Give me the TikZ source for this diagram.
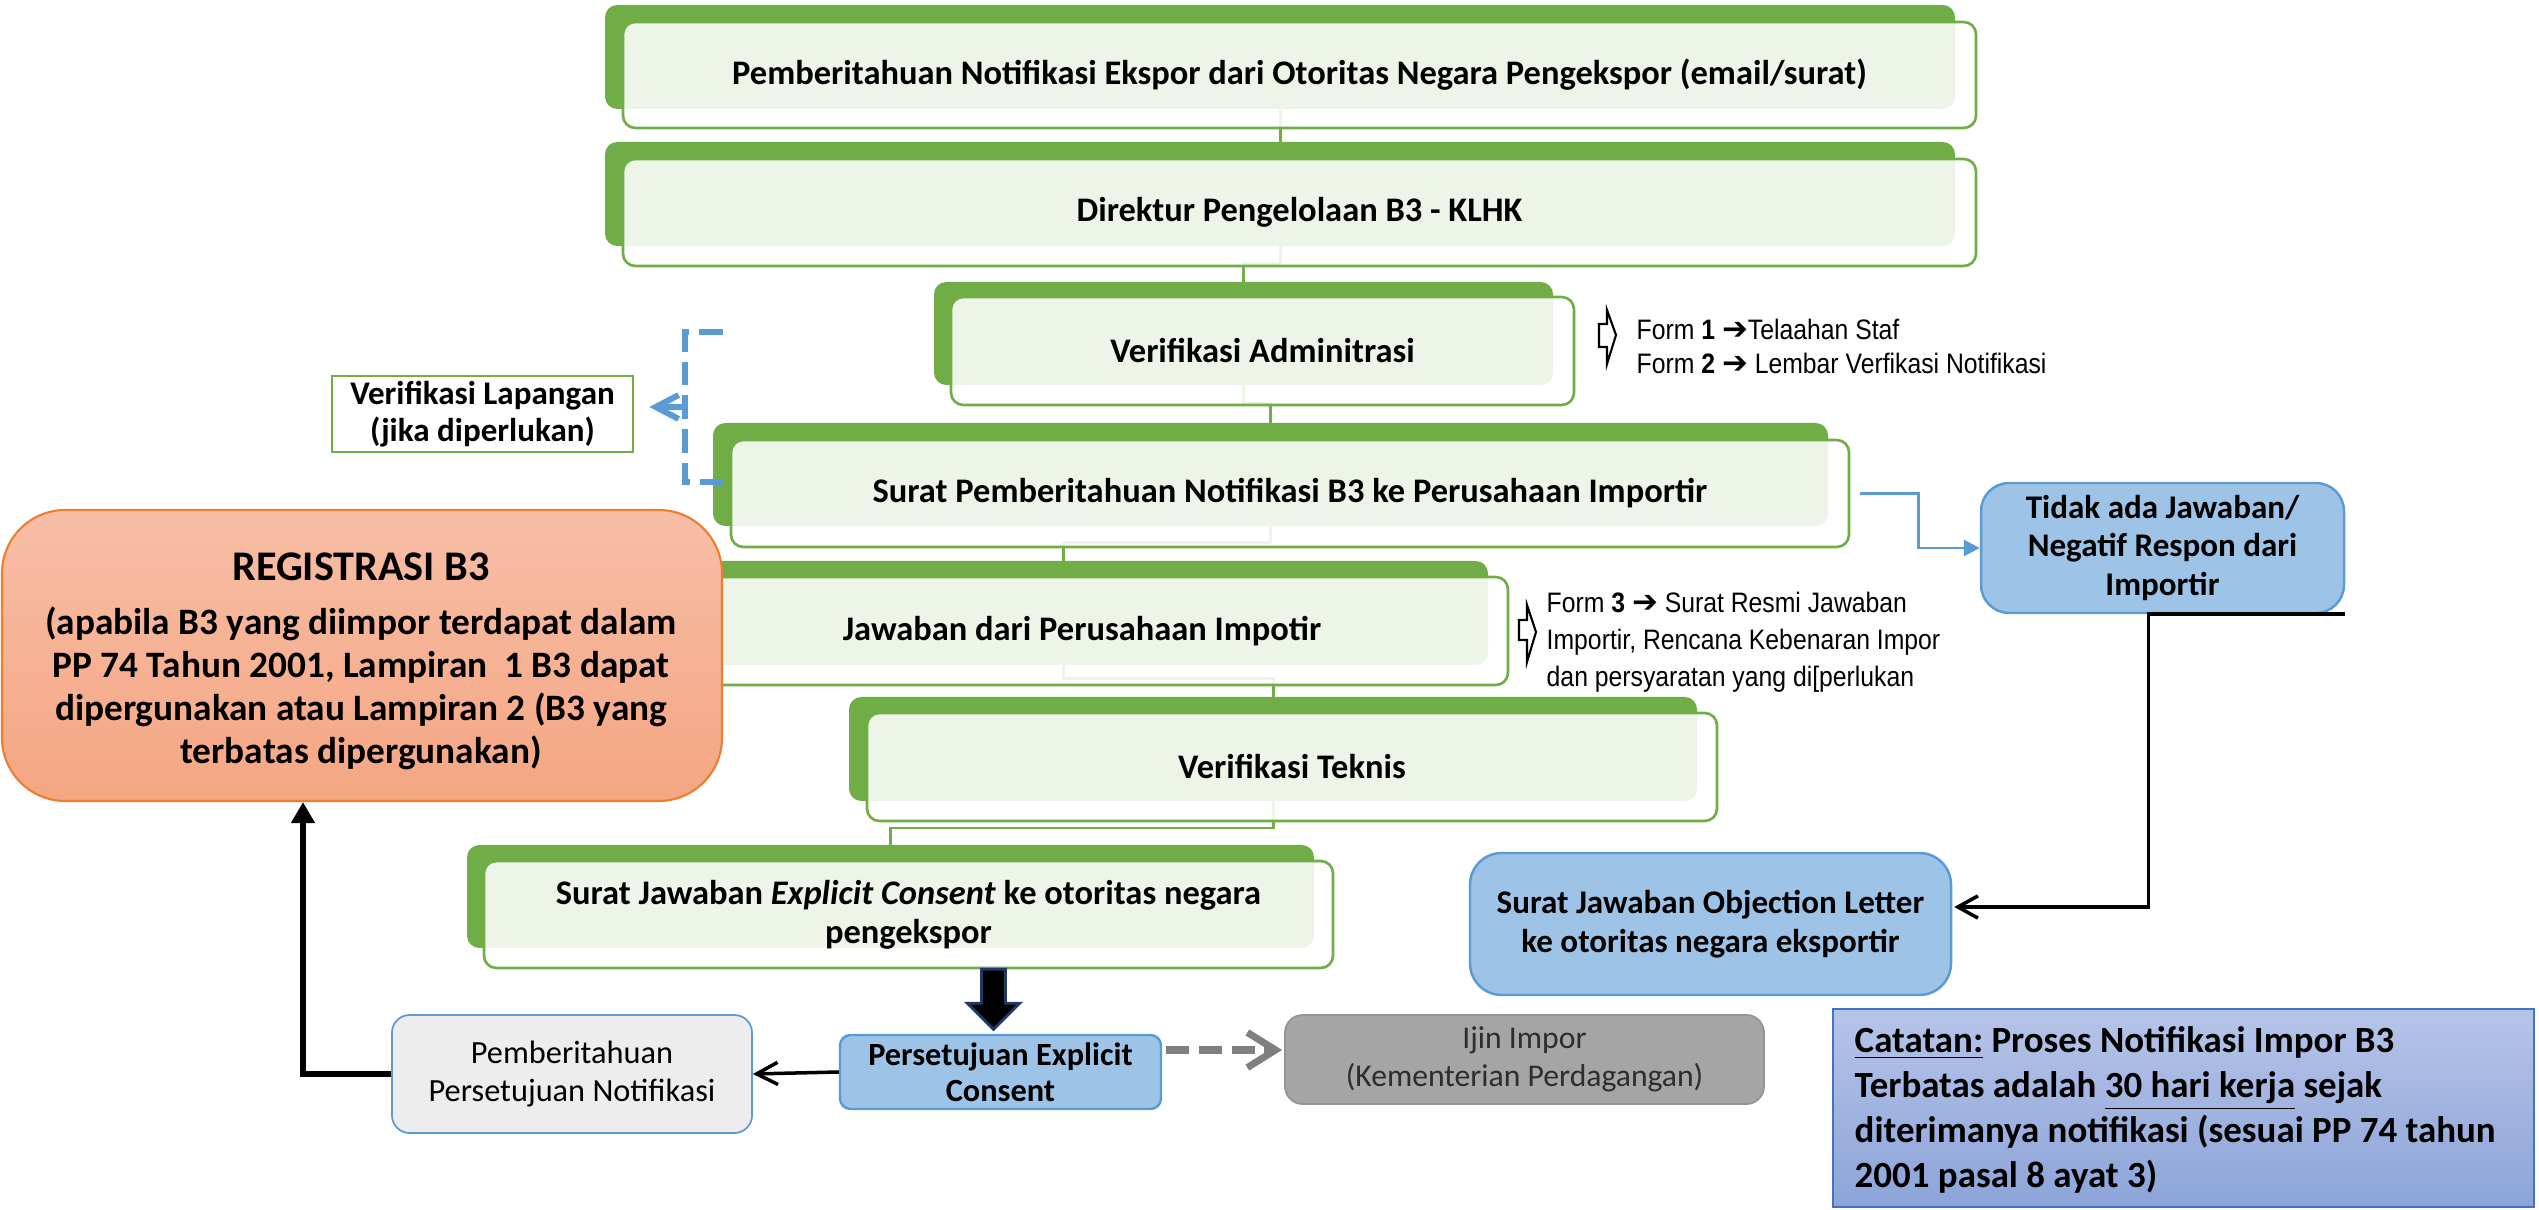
\documentclass[tikz,border=0pt]{standalone}
\usepackage{fontspec}
\setmainfont{Carlito}
\newfontfamily\narrowfont{Liberation Sans}[FakeStretch=0.88]
\newfontfamily\symfont{DejaVu Sans}
\usetikzlibrary{arrows.meta,calc,fit}
\definecolor{grn}{RGB}{112,173,71}
\definecolor{bluefill}{RGB}{157,195,230}
\definecolor{blueline}{RGB}{91,155,213}
\definecolor{regtop}{RGB}{247,190,166}
\definecolor{regbot}{RGB}{245,166,130}
\definecolor{regline}{RGB}{237,125,49}
\definecolor{cattop}{RGB}{182,196,232}
\definecolor{catbot}{RGB}{140,164,216}
\definecolor{catline}{RGB}{68,114,196}
\definecolor{ijinfill}{RGB}{165,165,165}
\definecolor{ijintext}{RGB}{45,45,45}
\definecolor{pembfill}{RGB}{237,237,237}
\definecolor{arrnavy}{RGB}{31,56,100}
\definecolor{dashgray}{RGB}{127,127,127}
\newcommand\myblockfont{\fontsize{9.8}{11}\selectfont\bfseries}
\newcommand\myformfont{\narrowfont\fontsize{8}{10}\selectfont}
\newcommand\myarrowglyph{{\symfont\fontsize{8.8}{9}\selectfont ➔}}
\begin{document}
\begin{tikzpicture}[x=0.01cm,y=-0.01cm,
  backbox/.style={fill=grn, draw=none, rounded corners=3.5pt, inner sep=0pt},
  frontbox/.style={draw=grn, line width=0.75pt, fill=white, fill opacity=0.88,
     rounded corners=3.5pt, inner sep=0pt},
  btxt/.style={align=center, font=\myblockfont, inner sep=0pt},
  conn/.style={draw=grn, line width=0.85pt},
  bluebox/.style={fill=bluefill, draw=blueline, line width=0.7pt, inner sep=0pt},
  formtxt/.style={font=\myformfont, inner sep=0pt, anchor=base west},
  hollow/.style={draw=black, line width=0.6pt, fill=white}
]
\useasboundingbox (0,0) rectangle (2539,1210);

% connectors between the green blocks (drawn first, under the boxes)
\coordinate (b1bs) at (1280,109);
\coordinate (b2bn) at (1280,142);
\coordinate (b2bs) at (1280,246);
\coordinate (b3bn) at (1243.5,282);
\coordinate (b3bs) at (1243.5,385);
\coordinate (b4bn) at (1270.5,423);
\coordinate (b4bs) at (1270.5,526);
\coordinate (b5bn) at (1063,561);
\coordinate (b5bs) at (1063,665);
\coordinate (b6bn) at (1273,697);
\coordinate (b6bs) at (1273,801);
\coordinate (b7bn) at (890.5,845);
\draw[conn] (b1bs) -- (b2bn);
\draw[conn] (b2bs) -- ++(0,18) -| (b3bn);
\draw[conn] (b3bs) -- ++(0,19) -| (b4bn);
\draw[conn] (b4bs) -- ++(0,17) -| (b5bn);
\draw[conn] (b5bs) -- ++(0,14) -| (b6bn);
\draw[conn] (b6bs) -- ++(0,27) -| (b7bn);

% back boxes
\node[backbox, fit={(605,5) (1955,109)}] (b1back) {};
\node[backbox, fit={(605,142) (1955,246)}] (b2back) {};
\node[backbox, fit={(934,282) (1553,385)}] (b3back) {};
\node[backbox, fit={(713,423) (1828,526)}] (b4back) {};
\node[backbox, fit={(638,561) (1488,665)}] (b5back) {};
\node[backbox, fit={(849,697) (1697,801)}] (b6back) {};
\node[backbox, fit={(467,845) (1314,948)}] (b7back) {};

% front boxes
\node[frontbox, fit={(623,22) (1976,128)}] (b1) {};
\node[frontbox, fit={(623,159) (1976,266)}] (b2) {};
\node[frontbox, fit={(951,297) (1574,405)}] (b3) {};
\node[frontbox, fit={(731,440) (1849,547)}] (b4) {};
\node[frontbox, fit={(656,577) (1508,685)}] (b5) {};
\node[frontbox, fit={(867,713) (1717,821)}] (b6) {};
\node[frontbox, fit={(484,861) (1333,968)}] (b7) {};
\node[btxt] (b1t) at (b1.center) {Pemberitahuan Notifikasi Ekspor dari Otoritas Negara Pengekspor (email/surat)};
\node[btxt] (b2t) at (b2.center) {Direktur Pengelolaan B3 - KLHK};
\node[btxt] (b3t) at (b3.center) {Verifikasi Adminitrasi};
\node[btxt] (b4t) at (b4.center) {Surat Pemberitahuan Notifikasi B3 ke Perusahaan Importir};
\node[btxt] (b5t) at (b5.center) {Jawaban dari Perusahaan Impotir};
\node[btxt] (b6t) at (b6.center) {Verifikasi Teknis};
\node[btxt] (b7t) at (b7.center) {Surat Jawaban \textit{Explicit Consent} ke otoritas negara\\pengekspor};

% Registrasi
\node[fit={(2,510) (722,801)}, inner sep=0pt, rounded corners=18pt, top color=regtop, bottom color=regbot, draw=regline, line width=0.6pt] (reg) {};
\node[font=\fontsize{12}{14}\selectfont\bfseries, anchor=base, inner sep=0pt] (regtitle) at (361,581) {REGISTRASI B3};
\node[font=\fontsize{10.6}{12.2}\selectfont\bfseries, align=center, inner sep=0pt] (regbody) at (361,688) {(apabila B3 yang diimpor terdapat dalam\\PP 74 Tahun 2001, Lampiran\ \ 1 B3 dapat\\dipergunakan atau Lampiran 2 (B3 yang\\terbatas dipergunakan)};

% Verifikasi Lapangan
\node[fit={(332,376) (633,452)}, inner sep=0pt, draw=grn, line width=0.75pt, fill=white] (vl) {};
\node[align=center, font=\fontsize{9.4}{10.4}\selectfont\bfseries, inner sep=0pt] (vlt) at (vl.center) {Verifikasi Lapangan\\(jika diperlukan)};

% blue dashed bracket
\coordinate (brtop) at (723,332);
\coordinate (brbot) at (723,482);
\coordinate (brmid) at (685,407);
\draw[blueline, line width=1.7pt, dash pattern=on 6.8pt off 2.8pt] (brtop) -- ++(-38,0) |- (brbot);
\draw[blueline, line width=1.7pt, -{Straight Barb[length=6.5pt,width=6.8pt]}] (brmid) -- ($(vl.east)+(15,-7)$);

% form annotations
\draw[hollow] (1599,324) -- (1607,324) -- (1607,310) -- (1616,335) -- (1607,364) -- (1607,347) -- (1599,347) -- cycle;
\node[formtxt] (f1) at (1636,340) {Form \textbf{1} \myarrowglyph Telaahan Staf};
\node[formtxt] (f2) at (1636,374) {Form \textbf{2} \myarrowglyph{} Lembar Verfikasi Notifikasi};
\draw[hollow] (1519,620) -- (1527,620) -- (1527,605) -- (1536,632) -- (1527,662) -- (1527,640) -- (1519,640) -- cycle;
\node[formtxt] (f3) at (1546,613) {Form \textbf{3} \myarrowglyph{} Surat Resmi Jawaban};
\node[formtxt] (f4) at (1546,650) {Importir, Rencana Kebenaran Impor};
\node[formtxt] (f5) at (1546,687) {dan persyaratan yang di[perlukan};

% right side
\node[bluebox, rounded corners=8pt, fit={(1981,483) (2344,613)}] (tidak) {};
\node[align=center, font=\fontsize{9.4}{10.9}\selectfont\bfseries, inner sep=0pt] (tidakt) at (tidak.center) {Tidak ada Jawaban/\\Negatif Respon dari\\Importir};
\node[bluebox, rounded corners=9pt, fit={(1470,853) (1951,995)}] (obj) {};
\node[align=center, font=\fontsize{9.4}{11.1}\selectfont\bfseries, inner sep=0pt] (objt) at (obj.center) {Surat Jawaban Objection Letter\\ke otoritas negara eksportir};
\draw[blueline, line width=0.8pt, -{Triangle[length=4.5pt,width=4.5pt]}] ($(b4.east)+(10,0)$) -- ($(b4.east)+(68,0)$) |- (tidak.west);
\draw[black, line width=1pt, -{Straight Barb[length=5.7pt,width=6.3pt]}] (tidak.south east) -- ($(tidak.south)+(-14,0)$) |- ($(obj.east)+(2,-17)$);

% Catatan
\node[fit={(1833,1009) (2534,1207)}, inner sep=0pt, top color=cattop, bottom color=catbot, draw=catline, line width=0.7pt] (cat) {};
\node[font=\fontsize{10.5}{12.8}\selectfont\bfseries, align=left, anchor=west, inner sep=0pt] (cattxt) at (1854,1110) {\underline{Catatan:} Proses Notifikasi Impor B3\\Terbatas adalah \underline{30 hari kerja} sejak\\diterimanya notifikasi (sesuai PP 74 tahun\\2001 pasal 8 ayat 3)};

% bottom row
\node[fit={(392,1015) (752,1133)}, inner sep=0pt, rounded corners=5pt, fill=pembfill, draw=blueline, line width=0.5pt] (pemb) {};
\node[align=center, font=\fontsize{9.2}{10.8}\selectfont, inner sep=0pt] (pembt) at (pemb.center) {Pemberitahuan\\Persetujuan Notifikasi};
\node[bluebox, rounded corners=3pt, fit={(840,1035) (1161,1109)}] (pers) {};
\node[align=center, font=\fontsize{9.2}{10.3}\selectfont\bfseries, inner sep=0pt] (perst) at (pers.center) {Persetujuan Explicit\\Consent};
\node[fit={(1285,1015) (1764,1104)}, inner sep=0pt, rounded corners=5pt, fill=ijinfill, draw=ijinfill!90!black, line width=0.5pt] (ijin) {};
\node[align=center, text=ijintext, font=\fontsize{9}{10.8}\selectfont, inner sep=0pt] (ijint) at (ijin.center) {Ijin Impor\\(Kementerian Perdagangan)};

% big down arrow
\coordinate (ba) at ($(pers.north |- b7.south)+(-7,0)$);
\draw[fill=black, draw=arrnavy, line width=0.8pt] ($(ba)+(-12,0)$) -- ($(ba)+(12,0)$) -- ($(ba)+(12,34)$) -- ($(ba)+(26,34)$) -- ($(ba)+(0,60)$) -- ($(ba)+(-26,34)$) -- ($(ba)+(-12,34)$) -- cycle;

\draw[black, line width=1pt, -{Straight Barb[length=6pt,width=6.3pt]}] (pers.west) -- (pemb.east);
\draw[dashgray, line width=2pt, dash pattern=on 6.5pt off 2.8pt, -{Straight Barb[length=8pt,width=10pt]}] ($(pers.east)+(4,-22)$) -- ($(ijin.west)+(-2,-9.5)$);
\draw[black, line width=1.9pt, -{Triangle[length=6pt,width=6.5pt]}] (pemb.west) -| ($(reg.south)+(-59,0)$);
\end{tikzpicture}
\end{document}
